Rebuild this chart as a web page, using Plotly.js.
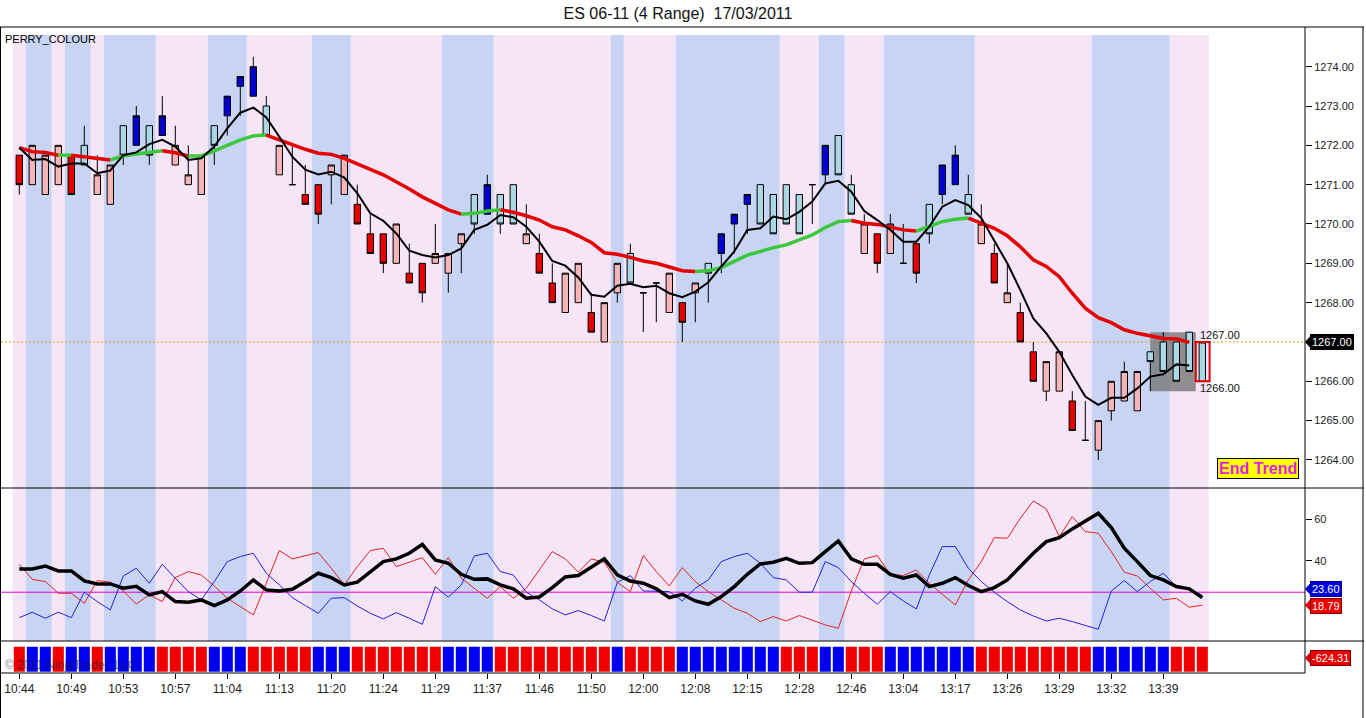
<!DOCTYPE html>
<html><head><meta charset="utf-8">
<script src="https://cdn.plot.ly/plotly-3.0.1.min.js"></script>
<style>html,body{margin:0;padding:0;background:#fff;}#chart{width:1366px;height:718px;}</style>
</head><body><div id="chart"></div>
<script>
// ---------- DATA ----------
const barType = ['R','P','P','P','R','L','P','P','L','B','L','B','P','P','P','L','B','B','B','L',
 'P','D','R','R','P','P','R','R','R','P','R','R','P','P','P','L','B','L','L','P',
 'R','R','P','P','R','P','P','L','D','D','P','R','P','L','B','B','B','L','L','L',
 'L','D','B','L','L','P','R','P','D','R','L','B','B','L','P','R','P','R','R','P',
 'P','R','D','P','P','P','P','L','L','L','L','L'];
const open = [1271.75,1271.0,1270.75,1271.0,1271.75,1272.0,1270.75,1270.5,1272.5,1272.0,
 1272.5,1272.25,1271.5,1271.0,1270.75,1272.5,1272.75,1273.5,1273.25,1273.0,
 1271.25,1271.0,1270.75,1271.0,1271.25,1270.75,1270.5,1269.75,1269.75,1269.0,
 1268.75,1269.0,1269.0,1268.75,1269.5,1270.75,1270.25,1270.75,1271.0,1269.5,
 1269.25,1268.5,1267.75,1268.0,1267.75,1267.0,1268.25,1269.25,1268.25,1268.5,
 1267.75,1268.0,1268.25,1269.0,1269.25,1270.0,1270.5,1271.0,1270.75,1271.0,
 1270.75,1271.0,1271.25,1272.25,1271.0,1269.25,1269.75,1269.25,1269.0,1269.5,
 1270.5,1270.75,1271.0,1270.75,1269.5,1269.25,1268.0,1267.75,1266.75,1265.75,
 1265.75,1265.5,1264.5,1264.25,1265.25,1265.5,1265.25,1266.75,1267.0,1267.0,
 1267.25,1266.0];
const high = [1271.75,1272.0,1271.75,1272.0,1271.75,1272.5,1271.75,1271.5,1272.5,1273.0,
 1272.5,1273.25,1272.5,1272.0,1271.75,1272.5,1273.25,1273.75,1274.25,1273.25,
 1272.0,1272.0,1271.5,1271.0,1271.5,1271.75,1271.0,1270.25,1269.75,1270.0,
 1269.5,1269.0,1270.0,1269.25,1269.75,1270.75,1271.25,1270.75,1271.0,1270.5,
 1269.75,1269.0,1268.75,1269.0,1268.25,1268.0,1269.0,1269.5,1268.25,1268.5,
 1268.75,1268.0,1268.5,1269.0,1269.75,1270.25,1270.75,1271.0,1270.75,1271.0,
 1270.75,1271.0,1272.0,1272.25,1271.25,1270.25,1269.75,1270.25,1270.0,1269.5,
 1270.5,1271.5,1272.0,1271.25,1270.5,1269.5,1269.0,1268.0,1267.0,1266.5,
 1266.75,1265.75,1265.5,1265.0,1266.0,1266.5,1266.25,1266.75,1267.25,1267.0,
 1267.25,1267.0];
const low = [1270.75,1271.0,1270.75,1271.0,1270.75,1271.5,1270.75,1270.5,1271.5,1272.0,
 1271.5,1272.25,1271.5,1271.0,1270.75,1271.5,1272.25,1272.75,1273.25,1272.25,
 1271.25,1271.0,1270.5,1270.0,1270.5,1270.75,1270.0,1269.25,1268.75,1269.0,
 1268.5,1268.0,1269.0,1268.25,1268.75,1269.75,1270.25,1269.75,1270.0,1269.5,
 1268.75,1268.0,1267.75,1268.0,1267.25,1267.0,1268.0,1268.5,1267.25,1267.5,
 1267.75,1267.0,1267.5,1268.0,1268.75,1269.25,1269.75,1270.0,1269.75,1270.0,
 1269.75,1270.0,1271.0,1271.25,1270.25,1269.25,1268.75,1269.25,1269.0,1268.5,
 1269.5,1270.5,1271.0,1270.25,1269.5,1268.5,1268.0,1267.0,1266.0,1265.5,
 1265.75,1264.75,1264.5,1264.0,1265.0,1265.5,1265.25,1265.75,1266.25,1266.0,
 1266.25,1266.0];
const close = [1271.0,1272.0,1271.75,1272.0,1270.75,1271.5,1271.25,1271.5,1271.75,1272.75,
 1271.75,1272.75,1272.0,1271.25,1271.75,1272.0,1273.25,1273.75,1274.0,1272.25,
 1272.0,1271.0,1270.5,1270.25,1271.5,1271.75,1270.0,1269.25,1269.0,1270.0,
 1268.5,1268.25,1269.25,1269.25,1269.75,1270.0,1271.0,1270.0,1270.0,1269.75,
 1268.75,1268.0,1268.75,1269.0,1267.25,1268.0,1269.0,1268.5,1268.25,1268.5,
 1268.75,1267.5,1268.5,1268.75,1269.75,1270.25,1270.75,1270.0,1269.75,1270.0,
 1269.75,1271.0,1272.0,1271.25,1270.25,1270.0,1269.0,1270.0,1269.0,1268.75,
 1269.75,1271.5,1271.75,1270.25,1270.0,1268.5,1268.25,1267.0,1266.0,1266.5,
 1266.75,1264.75,1264.5,1265.0,1266.0,1266.25,1266.25,1266.5,1266.25,1266.0,
 1266.25,1267.0];
const slowMA = [1271.94,1271.84,1271.82,1271.75,1271.75,1271.71,1271.65,1271.63,1271.73,1271.78,
 1271.81,1271.86,1271.81,1271.73,1271.73,1271.86,1272.0,1272.14,1272.24,1272.26,
 1272.14,1272.0,1271.90,1271.80,1271.77,1271.67,1271.54,1271.39,1271.25,1271.08,
 1270.89,1270.69,1270.53,1270.36,1270.25,1270.27,1270.33,1270.36,1270.30,1270.21,
 1270.10,1269.93,1269.85,1269.70,1269.53,1269.27,1269.23,1269.15,1269.06,1269.0,
 1268.90,1268.81,1268.79,1268.81,1268.89,1269.06,1269.21,1269.30,1269.40,1269.47,
 1269.59,1269.72,1269.91,1270.06,1270.09,1270.02,1269.99,1269.92,1269.85,1269.82,
 1269.93,1270.06,1270.12,1270.15,1270.02,1269.89,1269.70,1269.42,1269.09,1268.92,
 1268.66,1268.24,1267.86,1267.62,1267.49,1267.31,1267.22,1267.16,1267.09,1267.08,
 1266.99];
const slowRising = [0,0,0,0,1,0,0,0,1,1,1,1,0,0,1,1,1,1,1,1,
 0,0,0,0,0,0,0,0,0,0,0,0,0,0,0,1,1,1,0,0,
 0,0,0,0,0,0,0,0,0,0,0,0,0,1,1,1,1,1,1,1,
 1,1,1,1,1,0,0,0,0,0,1,1,1,1,0,0,0,0,0,0,
 0,0,0,0,0,0,0,0,0,0,0];
const fastMA = [1271.94,1271.63,1271.65,1271.46,1271.54,1271.54,1271.29,1271.36,1271.75,1271.82,
 1272.03,1272.14,1271.97,1271.63,1271.67,1271.97,1272.43,1272.83,1272.96,1272.71,
 1272.22,1271.71,1271.38,1271.26,1271.33,1271.18,1270.78,1270.27,1270.08,1269.76,
 1269.32,1269.21,1269.15,1269.21,1269.38,1269.85,1269.98,1270.23,1270.17,1269.93,
 1269.55,1269.06,1268.94,1268.64,1268.20,1268.15,1268.43,1268.48,1268.39,1268.43,
 1268.24,1268.14,1268.28,1268.52,1268.92,1269.30,1269.85,1269.89,1270.19,1270.12,
 1270.31,1270.57,1271.03,1271.10,1270.82,1270.33,1270.10,1269.85,1269.55,1269.55,
 1269.93,1270.44,1270.61,1270.48,1270.15,1269.59,1269.0,1268.32,1267.60,1267.22,
 1266.75,1266.16,1265.61,1265.40,1265.58,1265.58,1265.82,1266.12,1266.18,1266.43,
 1266.40];
const adx = [36.2,36.2,37.6,35.2,35.2,30.4,29.0,29.0,26.9,27.8,23.7,25.3,20.5,20.2,21.3,18.6,21.3,25.6,30.9,26.1,
 25.6,26.4,30.1,34.1,32.0,28.5,29.8,34.6,39.7,41.0,43.7,48.0,40.5,38.9,33.6,31.2,31.4,28.5,26.6,22.1,
 22.7,27.2,32.3,33.0,36.8,41.0,33.3,30.4,29.3,26.6,22.4,24.0,20.8,19.2,22.9,27.7,33.6,38.6,39.4,41.3,
 38.9,39.2,44.5,49.6,41.0,38.4,38.4,33.6,31.7,33.3,27.7,29.3,32.0,28.2,25.3,27.2,30.9,37.3,43.7,49.3,
 51.2,55.4,59.2,62.9,56.0,46.1,39.7,33.0,30.9,27.7,26.6,22.4];
const diMinus = [38.4,31.2,30.1,24.5,24.5,19.7,30.6,29.8,25.6,19.4,23.7,20.5,32.0,34.9,33.3,28.0,22.1,18.1,14.1,29.3,
 45.0,41.0,42.4,44.0,36.5,28.5,37.3,45.0,46.1,37.3,39.4,41.6,33.6,41.6,31.7,26.9,22.1,27.7,22.1,26.9,
 35.7,44.5,41.0,34.6,41.0,39.4,29.7,25.3,42.6,34.9,28.0,36.8,30.1,25.3,21.3,17.3,14.9,10.9,13.3,11.2,
 13.8,11.7,9.3,7.7,25.6,41.0,42.6,33.6,33.0,35.7,29.3,24.0,18.9,30.9,39.7,51.2,50.9,60.5,68.8,65.0,
 51.7,61.3,54.1,53.3,44.5,34.6,32.8,26.9,21.3,22.1,17.8,18.79];
const diPlus = [12.8,15.4,12.5,15.4,12.8,25.0,20.5,16.5,32.8,36.5,29.3,38.4,31.7,25.3,21.3,30.1,39.7,42.1,43.7,34.1,
 28.5,22.4,18.6,14.9,22.1,22.4,18.4,14.9,12.2,15.2,12.5,9.6,27.7,22.6,28.5,42.4,43.7,34.9,33.3,25.0,
 21.3,17.0,14.1,16.2,13.8,11.2,29.7,33.0,25.6,25.6,25.3,20.8,26.9,30.9,39.7,42.1,43.7,38.9,32.0,30.9,
 25.0,25.0,39.7,36.8,30.1,24.5,19.2,25.3,20.8,17.0,33.3,46.9,46.9,36.5,30.1,25.0,20.5,16.5,13.6,11.2,
 12.5,10.9,9.0,7.2,25.6,30.6,25.3,30.1,34.1,27.7,26.4,23.6];
const trendState = [0,1,1,0,1,1,0,1,1,1,1,0,0,0,0,1,1,1,0,0,
 0,0,0,1,1,1,0,0,0,0,0,0,0,1,1,1,1,0,0,0,
 0,0,0,0,0,0,1,0,0,0,0,1,1,1,1,1,1,1,1,0,
 0,0,1,1,0,0,0,1,1,1,1,1,1,1,0,0,0,0,0,0,
 0,0,0,1,1,1,1,1,1,0,0,0];
const timeLabels = ['10:44','10:49','10:53','10:57','11:04','11:13','11:20','11:24','11:29','11:37','11:46','11:50',
 '12:00','12:08','12:15','12:28','12:46','13:04','13:17','13:26','13:29','13:32','13:39'];
const adxLevel = 25;
const oscLast = -624.31;
const zoneStart = 87, zoneEnd = 90.5, zoneLow = 1265.75, zoneHigh = 1267.25;

// ---------- GEOMETRY ----------
const W = 1366, H = 718, ML = 1, MR = 61, MT = 27, MB = 45;
const PW = W - ML - MR, PH = H - MT - MB;
const py = p => (H - MB - p) / PH;
const px = p => (p - ML) / PW;
const FONT = 'Liberation Sans, Arial, sans-serif';
const idx = barType.map((_, i) => i);
const last = idx.length - 1;

// ---------- TRACES ----------
const traces = [];
const candleFill = {R: '#e80000', P: '#f5b5b9', B: '#0000d2', L: '#acd8e6'};
['R', 'P', 'B', 'L'].forEach(t => {
  const sel = idx.filter(i => barType[i] === t || (t === 'L' && barType[i] === 'D'));
  const side = {fillcolor: candleFill[t], line: {color: '#000', width: 1}};
  traces.push({type: 'candlestick', x: sel, open: sel.map(i => open[i]), high: sel.map(i => high[i]),
    low: sel.map(i => low[i]), close: sel.map(i => close[i]), increasing: side, decreasing: side,
    whiskerwidth: 0, hoverinfo: 'skip', showlegend: false, xaxis: 'x', yaxis: 'y'});
});
// slow MA in colour runs
let segStart = 0;
for (let k = 1; k < slowMA.length; k++) {
  const c = slowRising[k];
  const nxt = k + 1 < slowMA.length ? slowRising[k + 1] : null;
  if (nxt !== c) {
    traces.push({type: 'scatter', mode: 'lines', x: idx.slice(segStart, k + 1), y: slowMA.slice(segStart, k + 1),
      line: {color: c ? '#3cc83c' : '#e60000', width: 3.5}, hoverinfo: 'skip', showlegend: false, xaxis: 'x', yaxis: 'y'});
    segStart = k;
  }
}
traces.push({type: 'scatter', mode: 'lines', x: idx.slice(0, fastMA.length), y: fastMA,
  line: {color: '#000', width: 2}, hoverinfo: 'skip', showlegend: false, xaxis: 'x', yaxis: 'y'});
// indicator panel
traces.push({type: 'scatter', mode: 'lines', x: idx, y: diMinus, line: {color: '#e32222', width: 1},
  hoverinfo: 'skip', showlegend: false, xaxis: 'x', yaxis: 'y2'});
traces.push({type: 'scatter', mode: 'lines', x: idx, y: diPlus, line: {color: '#2222e0', width: 1},
  hoverinfo: 'skip', showlegend: false, xaxis: 'x', yaxis: 'y2'});
traces.push({type: 'scatter', mode: 'lines', x: idx, y: adx, line: {color: '#000', width: 3.5},
  hoverinfo: 'skip', showlegend: false, xaxis: 'x', yaxis: 'y2'});
// state strip
traces.push({type: 'bar', x: idx, y: idx.map(() => 0.78), base: 0.04, width: 0.85,
  marker: {color: trendState.map(s => s ? '#0000f0' : '#f00000'), line: {width: 0}},
  hoverinfo: 'skip', showlegend: false, xaxis: 'x', yaxis: 'y3'});

// ---------- SHAPES ----------
const shapes = [];
let runStart = 0;
for (let i = 1; i <= trendState.length; i++) {
  if (i === trendState.length || trendState[i] !== trendState[runStart]) {
    shapes.push({type: 'rect', xref: 'x', yref: 'paper', x0: runStart - 0.5, x1: i - 0.5, y0: py(641), y1: py(35),
      fillcolor: trendState[runStart] ? '#c7d4f3' : '#f6e5f6', line: {width: 0}, layer: 'below'});
    runStart = i;
  }
}
shapes.push({type: 'line', xref: 'paper', yref: 'y2', x0: 0, x1: 1, y0: adxLevel, y1: adxLevel,
  line: {color: '#e000e0', width: 1}, layer: 'below'});
shapes.push({type: 'line', xref: 'paper', yref: 'y', x0: 0, x1: 1, y0: close[last], y1: close[last],
  line: {color: '#ee9a20', width: 1, dash: '2px,2px'}, layer: 'below'});
shapes.push({type: 'rect', xref: 'x', yref: 'y', x0: zoneStart, x1: zoneEnd, y0: zoneLow, y1: zoneHigh,
  fillcolor: 'rgba(120,120,120,0.8)', line: {width: 0}, layer: 'below'});
shapes.push({type: 'rect', xref: 'x', yref: 'y', x0: last - 0.5, x1: last + 0.56, y0: low[last], y1: high[last],
  line: {color: '#e00000', width: 2}, layer: 'above'});
// tag arrows
const tagArrow = (yref, v, dv, col) => ({type: 'path', xref: 'paper', yref: yref,
  path: `M ${px(1305)},${v} L ${px(1311)},${v + dv} L ${px(1311)},${v - dv} Z`, fillcolor: col, line: {width: 0}});
shapes.push(tagArrow('y', close[last], 0.17, '#000'));
shapes.push(tagArrow('y2', diPlus[last] + 2.9, 3.2, '#0000e0'));
shapes.push(tagArrow('y2', diMinus[last], 3.2, '#e00000'));
shapes.push(tagArrow('y3', 0.47, 0.21, '#e00000'));
// frame lines
const hline = (yy, x0, x1) => ({type: 'line', xref: 'paper', yref: 'paper', x0: x0, x1: x1, y0: yy, y1: yy,
  line: {color: '#000', width: 1}, layer: 'above'});
const vline = (xx, y0, y1) => ({type: 'line', xref: 'paper', yref: 'paper', x0: xx, x1: xx, y0: y0, y1: y1,
  line: {color: '#000', width: 1}, layer: 'above'});
shapes.push(hline(py(27), px(0), px(1364)));
shapes.push(hline(py(488), px(0), px(1364)));
shapes.push(hline(py(641), px(0), px(1364)));
shapes.push(hline(py(673), px(0), 1));
shapes.push(vline(1, py(673), py(27)));
shapes.push(vline(px(0.5), py(718), py(27)));
shapes.push(vline(px(1363), py(718), py(27)));

// ---------- ANNOTATIONS ----------
const tag = (yref, v, txt, bg, border, shift) => ({xref: 'paper', yref: yref, x: px(1310), y: v, xanchor: 'left', yanchor: 'middle',
  yshift: shift || 0, text: txt, showarrow: false, bgcolor: bg, bordercolor: border, borderwidth: 1, borderpad: 1,
  font: {family: FONT, size: 11, color: '#fff'}});
const annotations = [
  {xref: 'paper', yref: 'paper', x: px(3), y: py(39), xanchor: 'left', yanchor: 'middle', text: 'PERRY_COLOUR',
    showarrow: false, font: {family: FONT, size: 11, color: '#000'}},
  {xref: 'x', yref: 'y', x: last - 0.25, y: high[last], xanchor: 'left', yanchor: 'bottom', text: high[last].toFixed(2),
    showarrow: false, borderpad: 0, font: {family: FONT, size: 11, color: '#111'}},
  {xref: 'x', yref: 'y', x: last - 0.25, y: low[last], xanchor: 'left', yanchor: 'top', text: low[last].toFixed(2),
    showarrow: false, borderpad: 0, font: {family: FONT, size: 11, color: '#111'}},
  {xref: 'paper', yref: 'paper', x: px(1257.5), y: py(468.5), xanchor: 'center', yanchor: 'middle', text: '<b>End Trend</b>',
    showarrow: false, bgcolor: '#ffff00', bordercolor: '#000', borderwidth: 1, borderpad: 1,
    font: {family: FONT, size: 16, color: '#e21de2'}},
  tag('y', close[last], close[last].toFixed(2), '#000', '#000', 0),
  tag('y2', diPlus[last], diPlus[last].toFixed(2), '#0000e0', '#000080', 6),
  tag('y2', diMinus[last], diMinus[last].toFixed(2), '#f00000', '#800000', -1),
  tag('y3', 0.47, oscLast.toFixed(2), '#f00000', '#800000', 0),
  {xref: 'paper', yref: 'paper', x: px(3), y: py(665), xanchor: 'left', yanchor: 'middle', text: '© 2011 NinjaTrader, LLC',
    showarrow: false, font: {family: FONT, size: 12, color: 'rgba(30,30,30,0.6)'}}
];

// ---------- LAYOUT ----------
const tickFont = {family: FONT, size: 11, color: '#222'};
const layout = {
  width: W, height: H, margin: {l: ML, r: MR, t: MT, b: MB, pad: 0},
  paper_bgcolor: '#fff', plot_bgcolor: '#fff', showlegend: false, hovermode: false,
  font: {family: FONT},
  title: {text: 'ES 06-11 (4 Range)&nbsp; 17/03/2011', xref: 'container', yref: 'container',
    x: 678 / W, y: 1 - 13 / H, xanchor: 'center', yanchor: 'middle', font: {family: FONT, size: 16, color: '#111'}},
  xaxis: {range: [-1.408, 98.9], anchor: 'y3', tickvals: timeLabels.map((_, k) => k * 4), ticktext: timeLabels,
    ticks: 'outside', ticklen: 5, tickcolor: '#000', tickfont: {family: FONT, size: 12, color: '#222'},
    showgrid: false, zeroline: false, showline: false, rangeslider: {visible: false}, fixedrange: true},
  yaxis: {domain: [py(488), 1], range: [1263.287, 1275.009], side: 'right', anchor: 'x',
    tickvals: [1264, 1265, 1266, 1267, 1268, 1269, 1270, 1271, 1272, 1273, 1274], tickformat: '.2f',
    ticks: 'outside', ticklen: 6, tickcolor: '#000', tickfont: tickFont, showgrid: false, zeroline: false, fixedrange: true},
  yaxis2: {domain: [py(641), py(488)], range: [1.58, 75.03], side: 'right', anchor: 'x', tickvals: [40, 60],
    ticks: 'outside', ticklen: 6, tickcolor: '#000', tickfont: tickFont, showgrid: false, zeroline: false, fixedrange: true},
  yaxis3: {domain: [0, py(641)], range: [0, 1], side: 'right', anchor: 'x', showticklabels: false, ticks: '',
    showgrid: false, zeroline: false, fixedrange: true},
  shapes: shapes, annotations: annotations
};
Plotly.newPlot('chart', traces, layout, {staticPlot: true, displayModeBar: false});
</script>
</body></html>
